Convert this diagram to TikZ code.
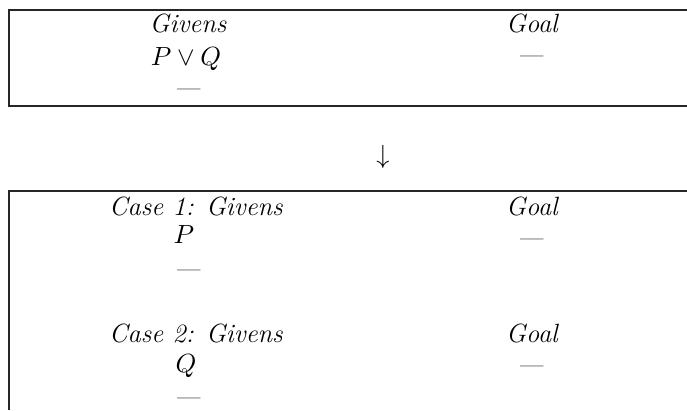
\documentclass[tikz,border=0pt]{standalone}
\usepackage{amsmath,amssymb}
\usepackage{tikz}

\tikzset{
  lbl/.style={inner sep=0pt, anchor=base, font=\fontsize{11}{13}\selectfont\itshape},
  frame/.style={semithick, draw=black!85}
}

\begin{document}
\begin{tikzpicture}[x=0.4167pt, y=-0.4167pt]
		\useasboundingbox (0,0) rectangle (687,410);
		
		% first box
		\draw[frame] (687,10) -- (9,10) -- (9,106) -- (687,106);
		
		\node[lbl] (givens) at (188,32) {Givens};
		\node[lbl] (pq) at (186,65) {$P \vee Q$};
		\node[lbl] (gdash) at (187,96.5) {---};
		\node[lbl] (goal) at (532,32) {Goal};
		\node[lbl] (goaldash) at (530,63.5) {---};
		
		% step
		\node[font=\fontsize{11}{13}\selectfont] (step) at (383,157) {$\downarrow$};
		
		% second box, cut off
		\draw[frame] (687,191) -- (9,191) -- (9,410);
		
		\node[lbl] (caseone) at (196,215) {Case 1: Givens};
		\node[lbl] (p) at (184,243) {$P$};
		\node[lbl] (pdash) at (187,277.5) {---};
		\node[lbl] (goalone) at (532,215) {Goal};
		\node[lbl] (goalonedash) at (530,246.5) {---};
		
		\node[lbl] (casetwo) at (196,342) {Case 2: Givens};
		\node[lbl] (q) at (186,372) {$Q$};
		\node[lbl] (qdash) at (187,405.5) {---};
		\node[lbl] (goaltwo) at (532,342) {Goal};
		\node[lbl] (goaltwodash) at (530,373.5) {---};
		
	\end{tikzpicture}
\end{document}
